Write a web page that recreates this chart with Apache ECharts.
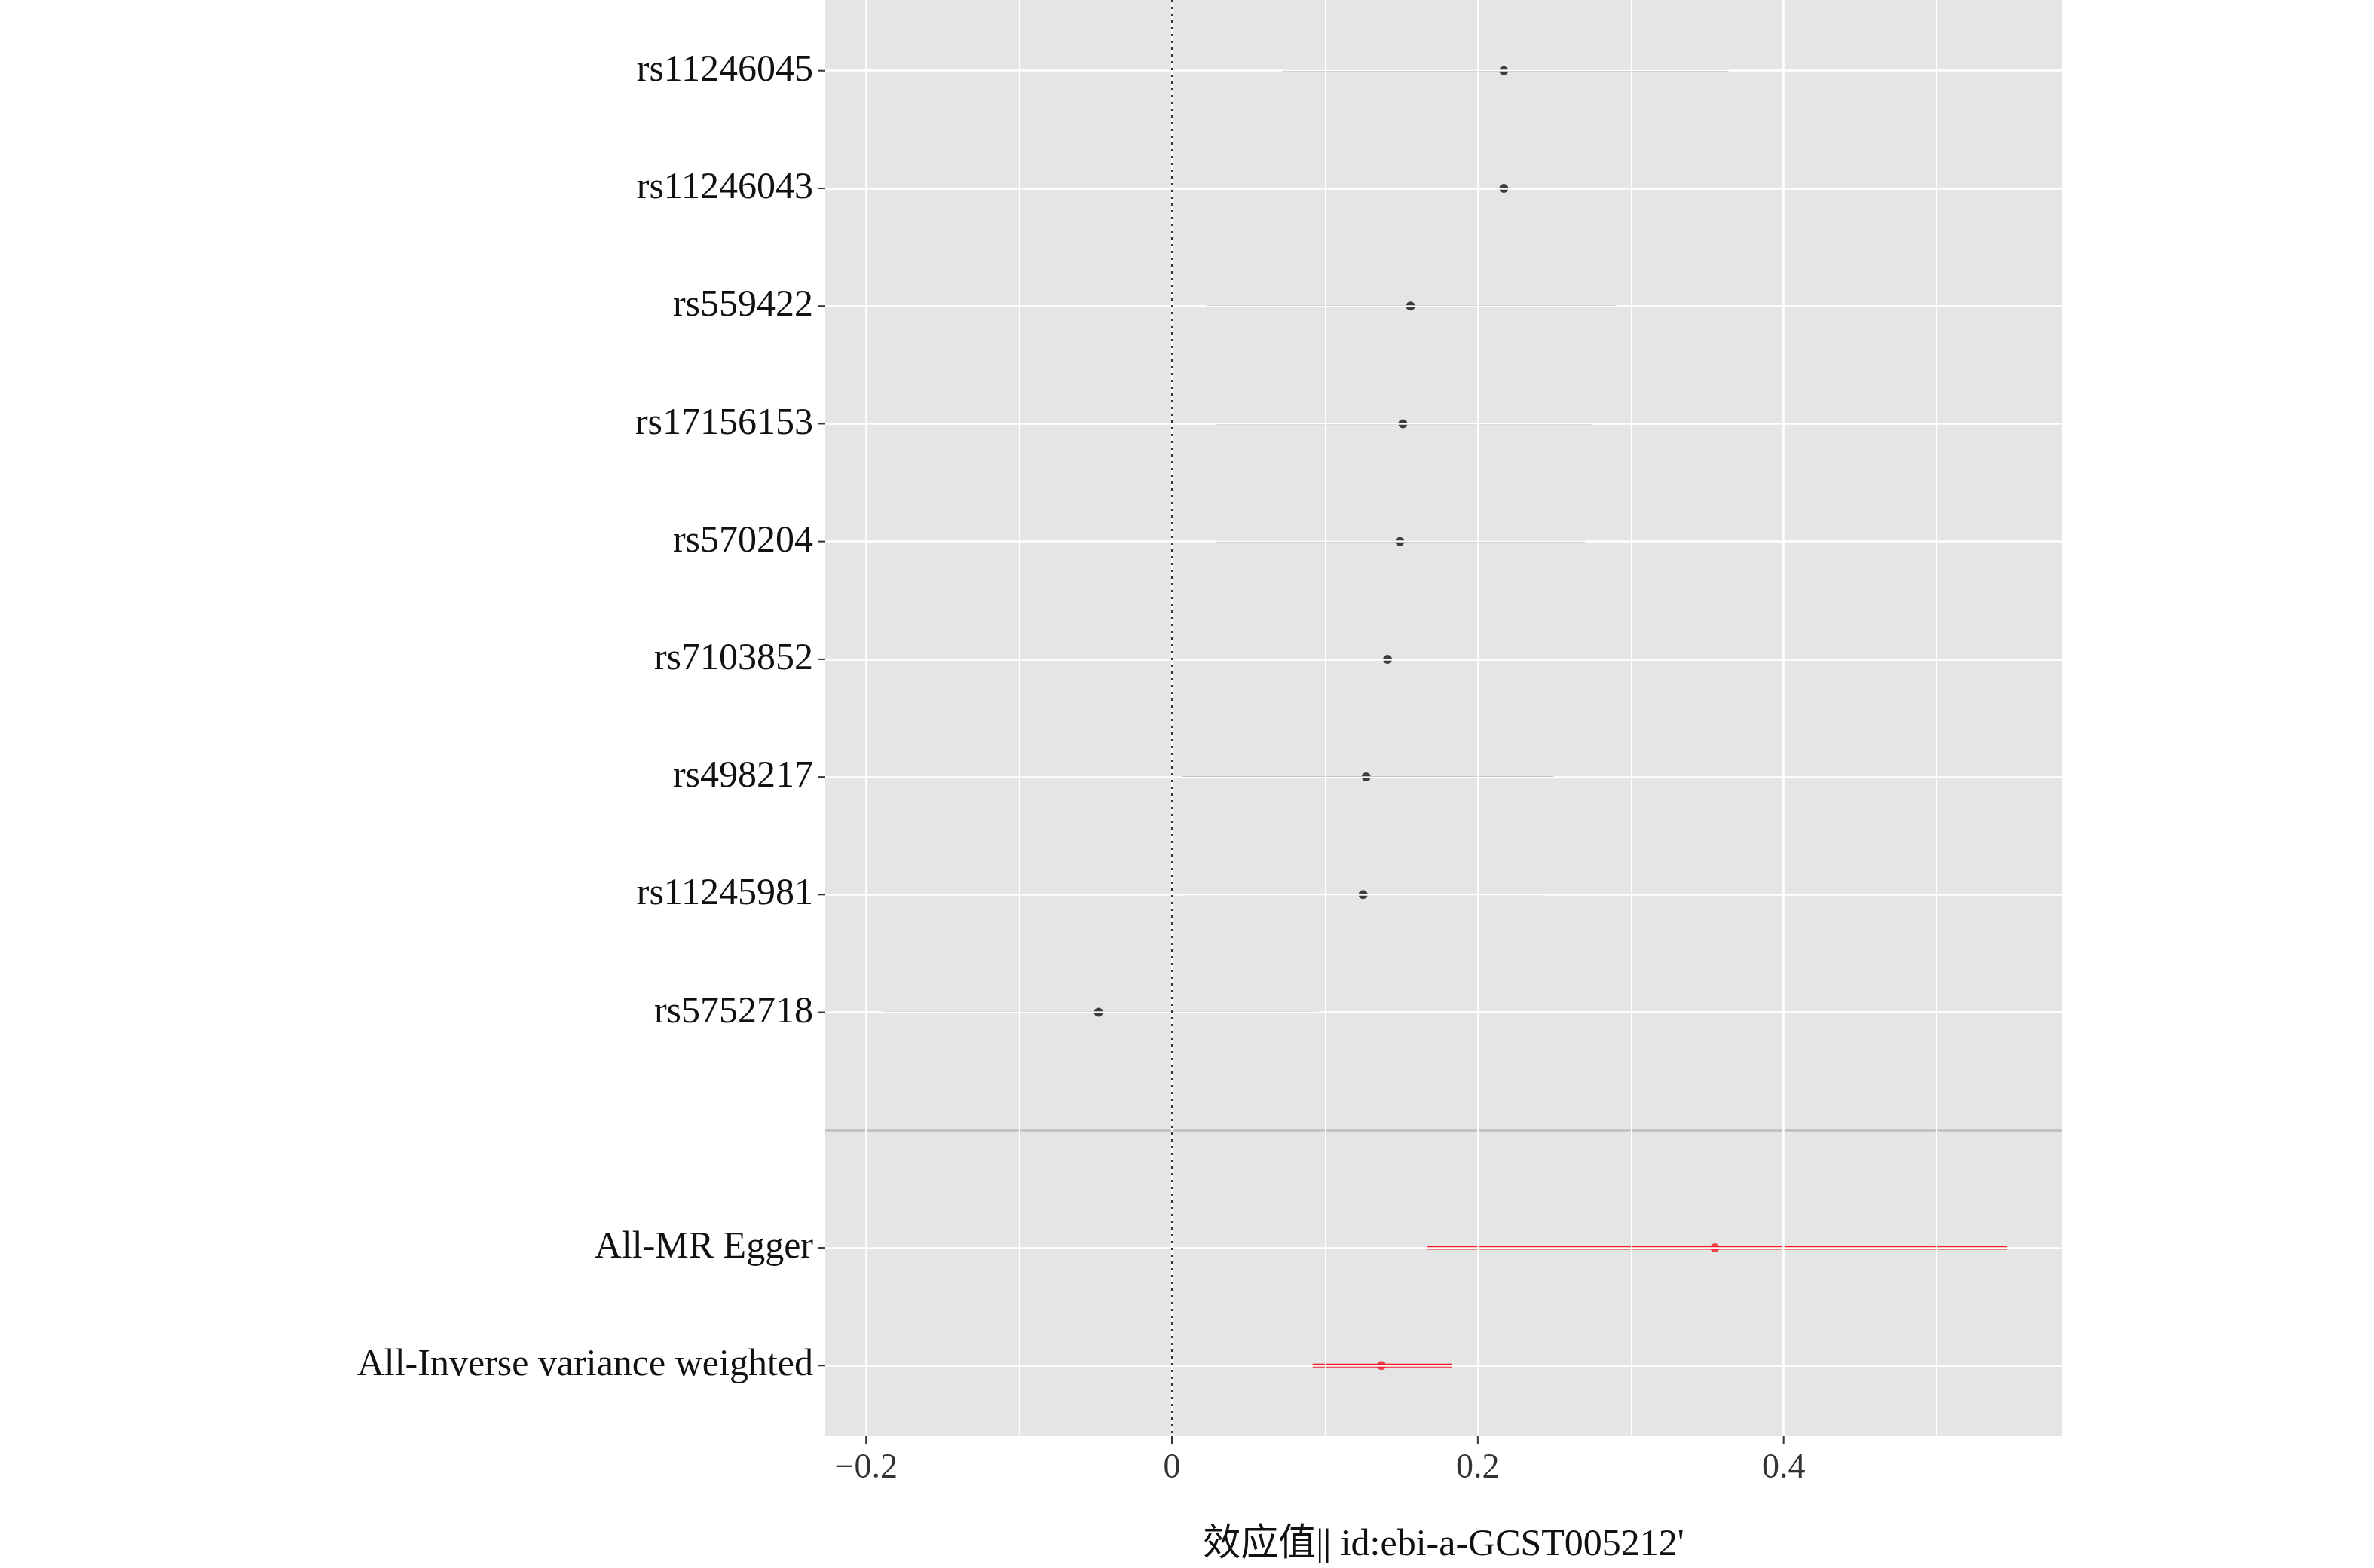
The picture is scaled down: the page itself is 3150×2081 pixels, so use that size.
<!DOCTYPE html>
<html>
<head>
<meta charset="utf-8">
<script src="https://cdn.jsdelivr.net/npm/echarts@6/dist/echarts.min.js"></script>
<style>html,body{margin:0;padding:0;background:#fff}#chart{width:3150px;height:2081px}</style>
</head>
<body>
<div id="chart"></div>
<script>
// row labels, top to bottom (row 10 is the empty separator row)
let labels = ['rs11246045','rs11246043','rs559422','rs17156153','rs570204','rs7103852','rs498217','rs11245981','rs5752718','','All-MR Egger','All-Inverse variance weighted'];
let rows = [1,2,3,4,5,6,7,8,9,11,12];
let beta = [0.217,0.217,0.156,0.151,0.149,0.141,0.127,0.125,-0.048,0.355,0.137];
let lower = [0.072,0.072,0.023,0.029,0.029,0.021,0.007,0.007,-0.190,0.167,0.092];
let upper = [0.364,0.364,0.290,0.275,0.270,0.261,0.249,0.245,0.096,0.546,0.183];
let xMajor = [-0.2,0,0.2,0.4];
let xMinor = [-0.1,0.1,0.3,0.5];

let serif = "'Liberation Serif','Noto Sans CJK SC',serif";
let colorOf = r => r > 10 ? '#ee1c25' : '#111';
let Y_MIN = 0.4, Y_MAX = 12.6;

let chart = echarts.init(document.getElementById('chart'));
let hLines = rows.map(r => ({yAxis: r, lineStyle: {color: '#fff', width: 2.5, type: 'solid'}}));
hLines.push({yAxis: 10, lineStyle: {color: '#bdbdbd', width: 2.5, type: 'solid'}});
let vLines = xMajor.map(v => ({xAxis: v, lineStyle: {color: '#fff', width: 2.5, type: 'solid'}}))
    .concat(xMinor.map(v => ({xAxis: v, lineStyle: {color: '#fff', width: 1.2, type: 'solid'}})));

let option = {
    animation: false,
    grid: {
        left: 1095, right: 414, top: 0, bottom: 166,
        show: true, backgroundColor: '#e5e5e5', borderWidth: 0
    },
    xAxis: {
        type: 'value', min: -0.2267, max: 0.582,
        splitLine: {show: false}, axisLine: {show: false},
        axisTick: {show: false}, axisLabel: {show: false},
        name: "效应值|| id:ebi-a-GCST005212'",
        nameLocation: 'middle', nameGap: 120,
        nameTextStyle: {fontFamily: serif, fontSize: 50, color: '#111'}
    },
    yAxis: {
        type: 'value', min: Y_MIN, max: Y_MAX, inverse: true,
        splitLine: {show: false}, axisLine: {show: false},
        axisTick: {show: false}, axisLabel: {show: false}
    },
    series: [
        {
            // gridlines and zero reference line
            type: 'line', data: [], z: 1,
            markLine: {
                silent: true, symbol: 'none', label: {show: false},
                data: hLines.concat(vLines).concat([
                    {xAxis: 0, lineStyle: {color: '#333', width: 2, type: [3, 6]}}
                ])
            }
        },
        {
            // confidence intervals
            type: 'custom', z: 3,
            data: rows.map((r, i) => [lower[i], upper[i], r]),
            renderItem: (params, api) => {
                let r = api.value(2);
                let a = api.coord([api.value(0), r]);
                let b = api.coord([api.value(1), r]);
                return {
                    type: 'line',
                    shape: {x1: a[0], y1: a[1], x2: b[0], y2: b[1]},
                    style: {stroke: colorOf(r), lineWidth: r > 10 ? 5 : 2}
                };
            }
        },
        {
            type: 'scatter', z: 4, symbolSize: 12,
            data: rows.map((r, i) => ({value: [beta[i], r], itemStyle: {color: colorOf(r)}}))
        },
        {
            // y-axis labels and ticks
            type: 'custom', clip: false, z: 5,
            data: rows.map(r => [0, r]),
            renderItem: (params, api) => {
                let r = api.value(1);
                let left = params.coordSys.x;
                let y = api.coord([0, r])[1];
                return {type: 'group', children: [
                    {type: 'line', shape: {x1: left - 10, y1: y, x2: left, y2: y}, style: {stroke: '#333', lineWidth: 2}},
                    {type: 'text', x: left - 16, y: y, style: {
                        text: labels[r - 1], fontFamily: serif, fontSize: 50, fill: '#111',
                        align: 'right', verticalAlign: 'middle'}}
                ]};
            }
        },
        {
            // x-axis labels and ticks
            type: 'custom', clip: false, z: 5,
            data: xMajor.map(v => [v, Y_MAX]),
            renderItem: (params, api) => {
                let v = api.value(0);
                let p = api.coord([v, Y_MAX]);
                let txt = v < 0 ? '\u2212' + Math.abs(v) : String(v);
                return {type: 'group', children: [
                    {type: 'line', shape: {x1: p[0], y1: p[1], x2: p[0], y2: p[1] + 10}, style: {stroke: '#333', lineWidth: 2}},
                    {type: 'text', x: p[0], y: p[1] + 20, style: {
                        text: txt, fontFamily: serif, fontSize: 46, fill: '#333',
                        align: 'center', verticalAlign: 'top'}}
                ]};
            }
        }
    ]
};
chart.setOption(option);
</script>
</body>
</html>
